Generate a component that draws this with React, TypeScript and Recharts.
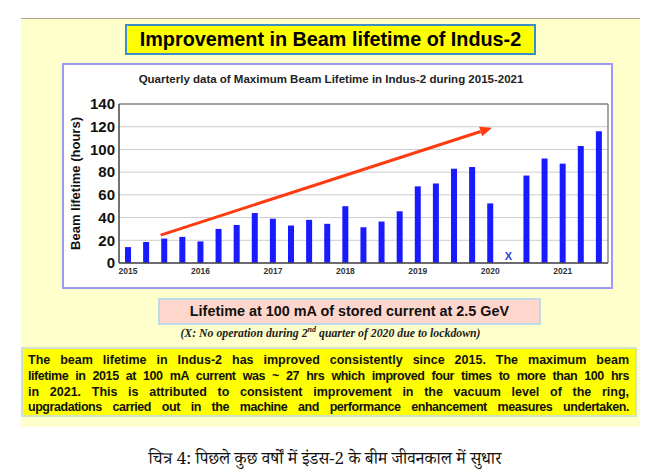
import React from "react";
import {
  BarChart,
  Bar,
  XAxis,
  YAxis,
  CartesianGrid,
  ReferenceLine,
  ReferenceDot,
} from "recharts";

// quarterly slots, 2015 Q1 .. 2021 Q3
const quarters = [
  "2015-Q1", "2015-Q2", "2015-Q3", "2015-Q4",
  "2016-Q1", "2016-Q2", "2016-Q3", "2016-Q4",
  "2017-Q1", "2017-Q2", "2017-Q3", "2017-Q4",
  "2018-Q1", "2018-Q2", "2018-Q3", "2018-Q4",
  "2019-Q1", "2019-Q2", "2019-Q3", "2019-Q4",
  "2020-Q1", "2020-Q2", "2020-Q3", "2020-Q4",
  "2021-Q1", "2021-Q2", "2021-Q3",
];

// max beam lifetime (hours), null = no operation
const lifetime = [
  14, 18.5, 21.5, 23,
  19, 30, 33.5, 44,
  39, 33, 38, 34.5,
  50, 31.5, 36.5, 45.5,
  67.5, 70, 83, 84.5,
  52.5, null, 77, 92,
  87.5, 103, 116,
];

const yTicks = [0, 20, 40, 60, 80, 100, 120, 140];
const noOperationQuarter = "2020-Q2";

// trend arrow, in (slot index, hours)
const arrowStart = { x: 1.8, y: 24.6 };
const arrowEnd = { x: 20.1, y: 119 };

const data = quarters.map((q, i) => ({ q, idx: i, value: lifetime[i] }));

const sans = '"Liberation Sans", Arial, sans-serif';

const Arrow = (p: any) => {
  const { x1, y1, x2, y2 } = p;
  const a = Math.atan2(y2 - y1, x2 - x1);
  const L = 12;
  const W = 5;
  const bx = x2 - L * Math.cos(a);
  const by = y2 - L * Math.sin(a);
  const pts = [
    `${x2},${y2}`,
    `${bx - W * Math.sin(a)},${by + W * Math.cos(a)}`,
    `${bx + W * Math.sin(a)},${by - W * Math.cos(a)}`,
  ].join(" ");
  return (
    <g>
      <line x1={x1} y1={y1} x2={bx} y2={by} stroke="#ff3b12" strokeWidth={3} />
      <polygon points={pts} fill="#ff3b12" />
    </g>
  );
};

const XMark = (p: any) => (
  <text
    x={p.cx}
    y={p.cy - 3}
    textAnchor="middle"
    fontSize={11}
    fontWeight="bold"
    fill="#3b3bd6"
    fontFamily={sans}
  >
    X
  </text>
);

const bodyLines = [
  "The beam lifetime in Indus-2 has improved consistently since 2015. The maximum beam",
  "lifetime in 2015 at 100 mA current was ~ 27 hrs which improved four times to more than 100  hrs",
  "in 2021.  This is attributed to consistent improvement in the vacuum level of the ring,",
  "upgradations carried out in the machine and performance enhancement measures undertaken.",
];

export default function App() {
  const abs = (s: React.CSSProperties): React.CSSProperties => ({
    position: "absolute",
    boxSizing: "border-box",
    ...s,
  });

  return (
    <div
      style={{
        position: "absolute",
        left: 0,
        top: 0,
        width: 665,
        height: 476,
        background: "#fff",
        fontFamily: sans,
        overflow: "hidden",
      }}
    >
      {/* pale panel */}
      <div
        style={abs({
          left: 21,
          top: 18,
          width: 619,
          height: 409,
          background: "#ffffcc",
          borderTop: "1px solid #b5a88a",
        })}
      />
      {/* title */}
      <div
        style={abs({
          left: 125,
          top: 24,
          width: 411,
          height: 31,
          background: "#ffff00",
          border: "2px solid #3a8fc8",
          fontWeight: "bold",
          fontSize: 19.8,
          lineHeight: "27px",
          textAlign: "center",
          color: "#000",
          whiteSpace: "nowrap",
        })}
      >
        Improvement in Beam lifetime of Indus-2
      </div>
      {/* chart panel */}
      <div
        style={abs({
          left: 62,
          top: 63,
          width: 551,
          height: 226,
          background: "#fff",
          border: "2px solid #9a9af0",
        })}
      />
      <div
        style={abs({
          left: 62,
          top: 73,
          width: 538,
          textAlign: "center",
          fontSize: 11.5,
          fontWeight: "bold",
          color: "#222",
          whiteSpace: "nowrap",
        })}
      >
        Quarterly data of Maximum Beam Lifetime in Indus-2 during 2015-2021
      </div>
      <div style={abs({ left: 62, top: 63 })}>
        <BarChart
          width={551}
          height={226}
          data={data}
          margin={{ top: 41, right: 5, bottom: 0, left: 0 }}
          barSize={6}
        >
          <CartesianGrid horizontal vertical={false} stroke="#cccccc" />
          <XAxis
            dataKey="q"
            height={26}
            interval={3}
            tickFormatter={(v: string) => v.slice(0, 4)}
            tickLine={false}
            tickSize={5}
            tickMargin={0}
            axisLine={{ stroke: "#444", strokeWidth: 1.5 }}
            tick={{ fontSize: 8.5, fontWeight: "bold", fill: "#333", fontFamily: sans }}
          />
          <XAxis xAxisId="n" dataKey="idx" type="number" domain={[-0.5, 26.5]} allowDataOverflow hide />
          <YAxis
            width={57}
            domain={[0, 140]}
            ticks={yTicks}
            interval={0}
            tickLine={false}
            tickSize={4}
            tickMargin={0}
            axisLine={{ stroke: "#444", strokeWidth: 1.5 }}
            tick={{ fontSize: 15, fontWeight: "bold", fill: "#111", fontFamily: sans }}
            label={{
              value: "Beam lifetime (hours)",
              angle: -90,
              position: "insideLeft",
              offset: 13,
              style: { textAnchor: "middle", fontSize: 13, fontWeight: "bold", fill: "#111", fontFamily: sans },
            }}
          />
          <ReferenceLine y={140} stroke="#8a8a8a" strokeWidth={1.5} ifOverflow="visible" />
          <ReferenceLine xAxisId="n" x={26.5} stroke="#8a8a8a" strokeWidth={1.5} ifOverflow="visible" />
          <Bar dataKey="value" fill="#1a1aff" isAnimationActive={false} />
          <ReferenceLine
            xAxisId="n"
            segment={[arrowStart, arrowEnd]}
            ifOverflow="visible"
            shape={Arrow}
          />
          <ReferenceDot
            x={noOperationQuarter}
            y={0}
            r={0}
            ifOverflow="visible"
            shape={XMark}
          />
        </BarChart>
      </div>
      {/* subtitle box */}
      <div
        style={abs({
          left: 158,
          top: 298,
          width: 383,
          height: 27,
          background: "#ffd6cc",
          border: "2px solid #bcdbe6",
          fontWeight: "bold",
          fontSize: 14.4,
          lineHeight: "23px",
          textAlign: "center",
          color: "#111",
          whiteSpace: "nowrap",
        })}
      >
        Lifetime at 100 mA of stored current at 2.5 GeV
      </div>
      <div
        style={abs({
          left: 21,
          top: 325,
          width: 619,
          textAlign: "center",
          fontFamily: '"Liberation Serif", "Times New Roman", serif',
          fontStyle: "italic",
          fontWeight: "bold",
          fontSize: 11.8,
          color: "#222",
          whiteSpace: "nowrap",
        })}
      >
        (X: No operation during 2<sup style={{ fontSize: 8 }}>nd</sup> quarter of 2020 due to lockdown)
      </div>
      {/* text box */}
      <div
        style={abs({
          left: 21,
          top: 347,
          width: 616,
          height: 70,
          background: "#ffff00",
          border: "2px solid #cfe3c8",
          padding: "4px 6px 0 5px",
          fontWeight: "bold",
          fontSize: 12.5,
          lineHeight: "15.8px",
          color: "#111",
        })}
      >
        {bodyLines.map((l, i) => (
          <div
            key={i}
            style={{
              textAlign: "justify",
              textAlignLast: "justify",
              whiteSpace: "nowrap",
              letterSpacing: i === 1 || i === 3 ? -0.45 : 0,
            }}
          >
            {l}
          </div>
        ))}
      </div>
      <div
        style={abs({
          left: 0,
          top: 448,
          width: 650,
          textAlign: "center",
          fontFamily: '"Noto Serif Devanagari", "Noto Sans Devanagari", "Lohit Devanagari", "Liberation Serif", serif',
          fontSize: 17,
          color: "#111",
          whiteSpace: "nowrap",
        })}
      >
        चित्र 4: पिछले कुछ वर्षों में इंडस-2 के बीम जीवनकाल में सुधार
      </div>
    </div>
  );
}
